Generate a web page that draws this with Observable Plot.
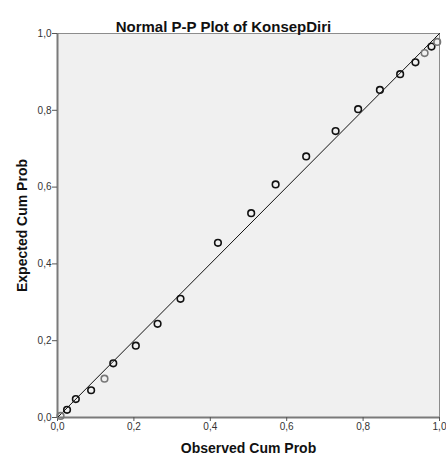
<!DOCTYPE html>
<html>
<head>
<meta charset="utf-8">
<script src="https://cdn.jsdelivr.net/npm/d3@7"></script>
<script src="https://cdn.jsdelivr.net/npm/@observablehq/plot@0.6"></script>
<style>
  html, body { margin: 0; padding: 0; background: #ffffff; }
  #chart svg { display: block; font-family: "Liberation Sans", Arial, sans-serif; }
</style>
</head>
<body>
<div id="chart"></div>
<script>
const observed = [0.008, 0.025, 0.048, 0.088, 0.123, 0.146, 0.205, 0.262, 0.322, 0.420, 0.507,
                  0.571, 0.651, 0.728, 0.787, 0.844, 0.897, 0.937, 0.961, 0.979, 0.994];
const expected = [0.004, 0.020, 0.048, 0.071, 0.101, 0.141, 0.187, 0.244, 0.309, 0.455, 0.532,
                  0.607, 0.680, 0.746, 0.803, 0.853, 0.894, 0.925, 0.949, 0.966, 0.978];
const tickValues = [0, 0.2, 0.4, 0.6, 0.8, 1.0];
const titleText = "Normal P-P Plot of KonsepDiri";
const xLabel = "Observed Cum Prob";
const yLabel = "Expected Cum Prob";

const points = observed.map((x, i) => ({x, y: expected[i], i}));
const lighter = new Set([0, 4, 18, 20]);
const fmt = d => d.toFixed(1).replace(".", ",");

const chart = Plot.plot({
  width: 446,
  height: 459,
  marginLeft: 57,
  marginRight: 7,
  marginTop: 33,
  marginBottom: 42,
  style: {fontFamily: '"Liberation Sans", Arial, sans-serif', background: "#ffffff"},
  x: {domain: [0, 1]},
  y: {domain: [0, 1]},
  marks: [
    Plot.frame({fill: "#f0f0f0", stroke: "#8c8c8c", strokeWidth: 1}),
    Plot.ruleX([0], {stroke: "#7a7a7a", strokeWidth: 2}),
    Plot.ruleY([0], {stroke: "#7a7a7a", strokeWidth: 2}),
    Plot.axisX({ticks: tickValues, tickFormat: fmt, tickSize: 4, tickPadding: 1, fontSize: 10, color: "#333", stroke: "#555", label: null}),
    Plot.axisY({ticks: tickValues, tickFormat: fmt, tickSize: 5, tickPadding: 1, fontSize: 10, color: "#333", stroke: "#555", label: null}),
    Plot.line([{x: 0, y: 0}, {x: 1, y: 1}], {x: "x", y: "y", stroke: "#111", strokeWidth: 1}),
    Plot.dot(points, {x: "x", y: "y", r: 3.3, strokeWidth: 1.6, fill: "none",
      stroke: d => lighter.has(d.i) ? "#777" : "#111"}),
    Plot.text([titleText], {frameAnchor: "top", dx: -25, dy: -12, fontSize: 15, fontWeight: "bold", fill: "#111"}),
    Plot.text([xLabel], {frameAnchor: "bottom", dy: 35, fontSize: 14, fontWeight: "bold", fill: "#111"}),
    Plot.text([yLabel], {frameAnchor: "left", textAnchor: "middle", dx: -35, rotate: -90, fontSize: 14, fontWeight: "bold", fill: "#111"})
  ]
});
document.getElementById("chart").appendChild(chart);
</script>
</body>
</html>
